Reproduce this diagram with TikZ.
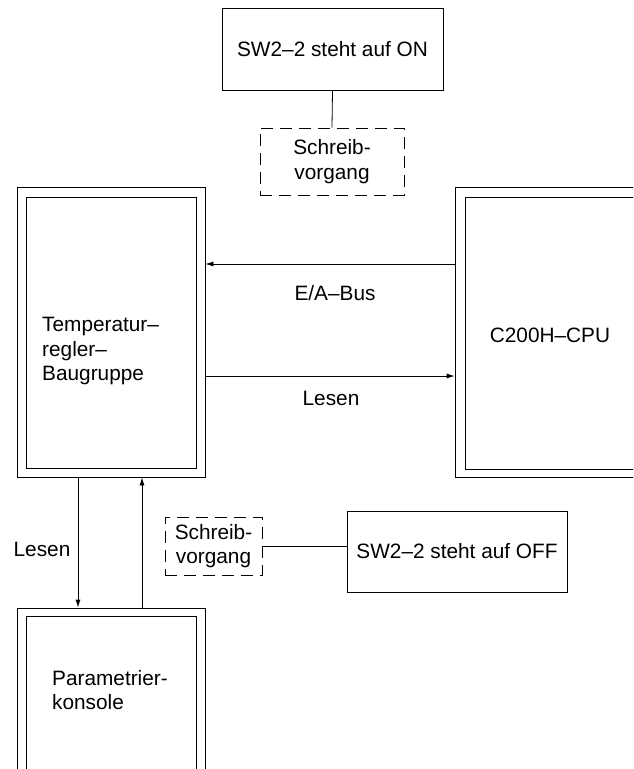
\documentclass[tikz,border=0pt]{standalone}
\usepackage{fontspec}
\setmainfont{Liberation Sans}
\usetikzlibrary{arrows.meta}
\tikzset{
	every node/.style={font=\fontsize{20.8pt}{24.5pt}\selectfont, inner sep=0pt},
	blockbox/.style={shape=rectangle, draw, line width=0.8pt},
	dashbox/.style={shape=rectangle, draw, line width=0.8pt, dash pattern={on 12pt off 7pt}},
	wire/.style={line width=0.8pt},
	arr/.style={line width=0.8pt, -{Latex[length=8pt, width=5pt]}},
}
\begin{document}
\begin{tikzpicture}[x=1pt, y=-1pt]
	\useasboundingbox (0, 0) rectangle (633, 769);
	\clip (0, 0) rectangle (633, 769);
	% Boxes:
	\node[blockbox, minimum width=221pt, minimum height=82pt] (swon) at (332.5, 49) {SW2--2 steht auf ON};
	\node[dashbox, minimum width=144pt, minimum height=67pt, align=center] (schrA) at (332, 161.5) {Schreib-\\vorgang};
	\node[blockbox, minimum width=188pt, minimum height=290pt] (temp) at (111, 332) {};
	\node[blockbox, minimum width=170pt, minimum height=271pt] (tempin) at (111, 332.5) {};
	\node[anchor=west, align=left] (templbl) at (42, 351) {Temperatur--\\regler--\\Baugruppe};
	\node[blockbox, minimum width=265pt, minimum height=290pt] (cpu) at (587.5, 332) {};
	\node[blockbox, minimum width=245pt, minimum height=272pt] (cpuin) at (587.5, 333) {};
	\node (cpulbl) at (550, 335) {C200H--CPU};
	\node[dashbox, minimum width=97pt, minimum height=58pt, align=center] (schrB) at (213.5, 546) {Schreib-\\vorgang};
	\node[blockbox, minimum width=220pt, minimum height=81pt] (swoff) at (457, 551.5) {SW2--2 steht auf OFF};
	\node[blockbox, minimum width=188pt, minimum height=222pt] (konsole) at (111, 719) {};
	\node[blockbox, minimum width=170pt, minimum height=214pt] (konsolein) at (111, 723) {};
	\node[anchor=west, align=left] (konsolelbl) at (52, 690) {Parametrier-\\konsole};
	% Wires and arrows:
	\draw[wire] (swon.south) -- (schrA.north);
	\draw[wire] (schrB.east) -- (schrB.east -| swoff.west);
	\draw[arr] ([yshift=68pt]cpu.west) -- ([yshift=68pt]temp.east);
	\draw[arr] ([yshift=-44pt]temp.east) -- ([yshift=-44pt]cpu.west);
	\draw[arr] ([xshift=-33pt]temp.south) -- ([xshift=-33pt]temp.south |- konsole.north);
	\draw[arr] ([xshift=31pt]temp.south |- konsole.north) -- ([xshift=31pt]temp.south);
	% Labels:
	\node (buslbl) at (335, 293) {E/A--Bus};
	\node (leslblA) at (331, 398) {Lesen};
	\node (leslblB) at (42, 549) {Lesen};
\end{tikzpicture}
\end{document}
